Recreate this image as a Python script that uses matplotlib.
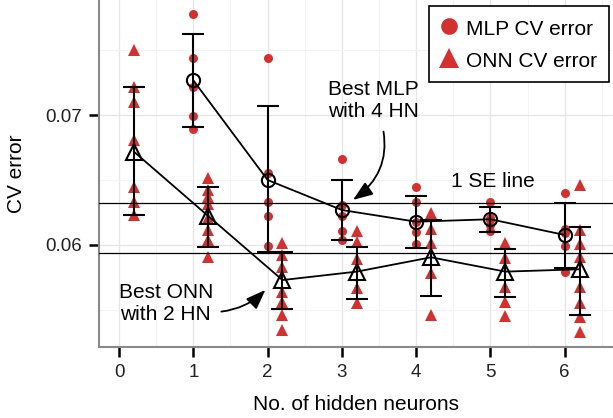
import matplotlib.pyplot as plt
from matplotlib.lines import Line2D

# CV error per fold
mlp_neurons = [1, 2, 3, 4, 5, 6]
mlp_cv = [
    [0.07777, 0.07441, 0.07213, 0.06995, 0.0689],
    [0.07441, 0.06552, 0.06333, 0.06223, 0.05995],
    [0.06664, 0.06308, 0.06223, 0.0611, 0.0604],
    [0.06448, 0.06333, 0.0618, 0.06102, 0.06008],
    [0.06333, 0.0621, 0.0619, 0.0615, 0.0611],
    [0.06398, 0.0612, 0.0609, 0.05992, 0.05795],
]
mlp_mean = [0.07267, 0.0650, 0.06269, 0.06179, 0.06198, 0.06077]
mlp_lo = [0.0691, 0.05948, 0.06036, 0.05975, 0.06102, 0.05826]
mlp_hi = [0.07623, 0.0707, 0.0650, 0.0638, 0.06295, 0.06326]

onn_neurons = [0, 1, 2, 3, 4, 5, 6]
onn_cv = [
    [0.075, 0.07218, 0.07102, 0.06808, 0.06448, 0.06333, 0.06231],
    [0.06513, 0.06423, 0.06369, 0.06315, 0.06208, 0.06115, 0.06038, 0.05908],
    [0.06013, 0.05923, 0.05833, 0.05641, 0.05559, 0.05462, 0.05346],
    [0.0611, 0.06021, 0.05892, 0.05667, 0.05556],
    [0.06244, 0.0612, 0.06013, 0.05787, 0.05462],
    [0.06018, 0.05897, 0.05674, 0.05562, 0.05454],
    [0.06462, 0.06115, 0.06008, 0.05905, 0.05675, 0.05557, 0.05449, 0.05333],
]
onn_mean = [0.06718, 0.06223, 0.0573, 0.05795, 0.05905, 0.05795, 0.05813]
onn_lo = [0.06231, 0.05982, 0.05505, 0.05585, 0.05608, 0.05602, 0.05462]
onn_hi = [0.07218, 0.06448, 0.05948, 0.05987, 0.06192, 0.05969, 0.06136]

se_lines = [0.06326, 0.05941]

RED = '#d33030'
DODGE = 0.2

plt.rcParams['font.family'] = ['Liberation Sans', 'DejaVu Sans']

fig = plt.figure(figsize=(6.13, 4.18), dpi=100)
ax = fig.add_axes([99 / 613, 1 - 347 / 418, 1 - 99 / 613, 347 / 418])

# raw fold errors
for n, vals in zip(mlp_neurons, mlp_cv):
    ax.plot([n] * len(vals), vals, 'o', color=RED, ms=6.5, mew=0, zorder=2)
for n, vals in zip(onn_neurons, onn_cv):
    ax.plot([n + DODGE] * len(vals), vals, '^', color=RED, ms=8.5, mew=0, zorder=2)

for y in se_lines:
    ax.axhline(y, color='black', lw=0.9, zorder=3)

onn_x = [n + DODGE for n in onn_neurons]
ax.errorbar(mlp_neurons, mlp_mean,
            yerr=[[m - l for m, l in zip(mlp_mean, mlp_lo)], [h - m for m, h in zip(mlp_mean, mlp_hi)]],
            fmt='none', ecolor='black', elinewidth=1.5, capsize=8, capthick=1.5, zorder=4)
ax.errorbar(onn_x, onn_mean,
            yerr=[[m - l for m, l in zip(onn_mean, onn_lo)], [h - m for m, h in zip(onn_mean, onn_hi)]],
            fmt='none', ecolor='black', elinewidth=1.5, capsize=8, capthick=1.5, zorder=4)
ax.plot(mlp_neurons, mlp_mean, '-', color='black', lw=1.3, zorder=5)
ax.plot(onn_x, onn_mean, '-', color='black', lw=1.3, zorder=5)
ax.plot(mlp_neurons, mlp_mean, 'o', mfc='none', mec='black', mew=1.5, ms=9.5, zorder=6)
ax.plot(onn_x, onn_mean, '^', mfc='none', mec='black', mew=1.5, ms=11.5, zorder=6)

# annotations
ax.text(5.03, 0.06492, '1 SE line', ha='center', va='center', fontsize=15)
ax.annotate('Best MLP\nwith 4 HN', xy=(3.15, 0.06347), xytext=(3.43, 0.07115),
            ha='center', va='center', fontsize=15, linespacing=1.2,
            arrowprops=dict(arrowstyle='-|>,head_length=0.8,head_width=0.3', color='black', lw=1.3,
                            connectionstyle='arc3,rad=-0.35', shrinkA=6, shrinkB=0,
                            relpos=(0.58, 0)))
ax.annotate('Best ONN\nwith 2 HN', xy=(1.97, 0.05654), xytext=(0.63, 0.05546),
            ha='center', va='center', fontsize=15, linespacing=1.2,
            arrowprops=dict(arrowstyle='-|>,head_length=0.8,head_width=0.3', color='black', lw=1.3,
                            connectionstyle='arc3,rad=0.2', shrinkA=4, shrinkB=0,
                            relpos=(1.0, 0.3)))

# axes styling
ax.set_xlim(-0.27, 6.65)
ax.set_ylim(0.05215, 0.07885)
ax.set_xticks(range(7))
ax.set_yticks([0.06, 0.07])
ax.set_yticklabels(['0.06', '0.07'])
ax.set_xticks([0.5 + i for i in range(7)], minor=True)
ax.set_yticks([0.055, 0.065, 0.075], minor=True)
ax.grid(which='major', color='#e6e6e6', lw=1.0, zorder=0)
ax.grid(which='minor', color='#f3f3f3', lw=0.8, zorder=0)
ax.set_axisbelow(True)
ax.tick_params(which='major', length=7, width=1.8, color='black', labelsize=13.5, labelcolor='#222222', pad=5)
ax.tick_params(which='minor', length=0)
for s in ['top', 'right']:
    ax.spines[s].set_visible(False)
for s in ['left', 'bottom']:
    ax.spines[s].set_color('#888888')
    ax.spines[s].set_linewidth(1.5)
ax.set_xlabel('No. of hidden neurons', fontsize=15, labelpad=10)
ax.set_ylabel('CV error', fontsize=15, labelpad=14)

handles = [Line2D([], [], marker='o', color=RED, ls='none', ms=12, mew=0),
           Line2D([], [], marker='^', color=RED, ls='none', ms=14, mew=0)]
leg = ax.legend(handles, ['MLP CV error', 'ONN CV error'], loc='upper right',
                bbox_to_anchor=(0.992, 0.983), fontsize=15, frameon=True, fancybox=False,
                edgecolor='black', framealpha=1, borderpad=0.55, labelspacing=0.48,
                handletextpad=0.45, handlelength=0.8, handleheight=1.2, borderaxespad=0)
leg.get_frame().set_linewidth(1.2)

fig.savefig('out.png', dpi=100)
